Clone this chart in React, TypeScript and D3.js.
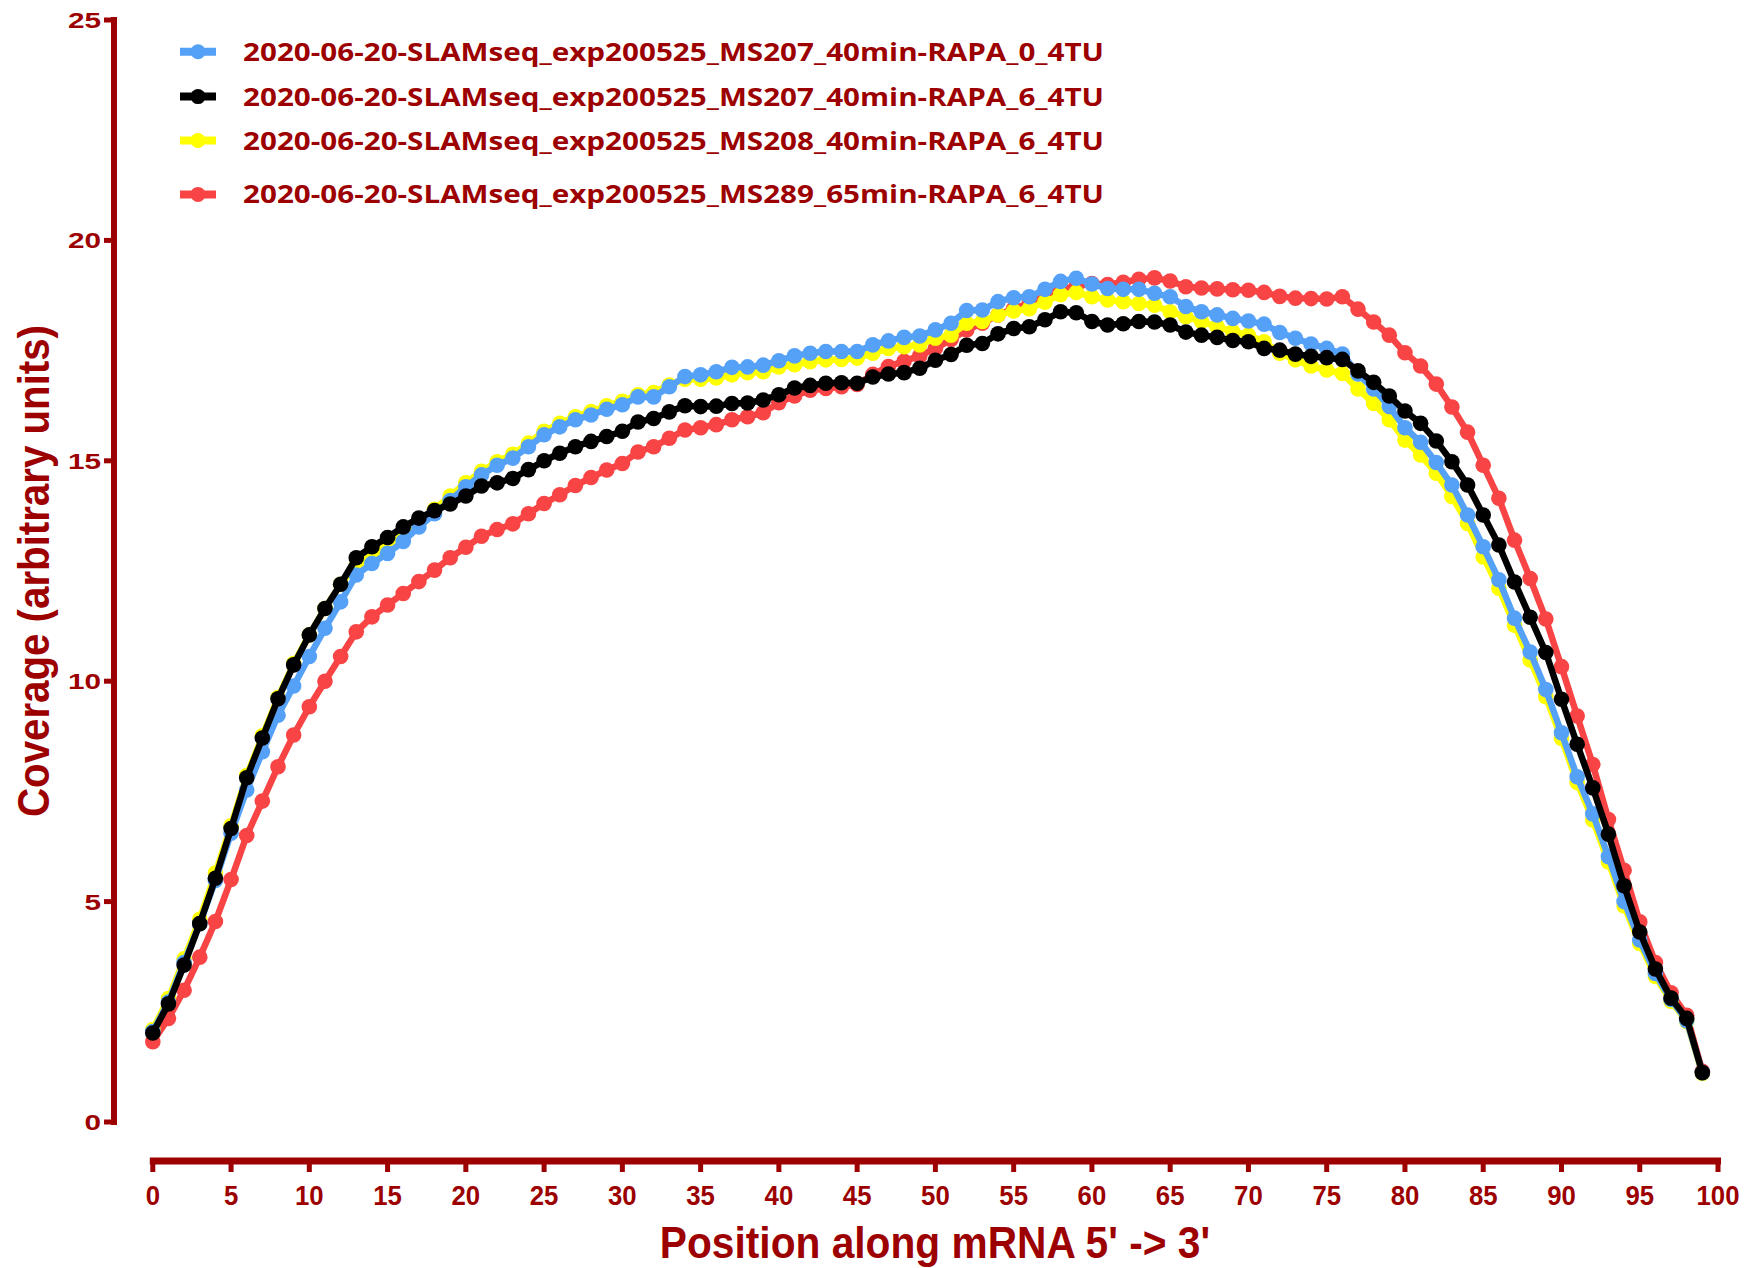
import React from "react";
import * as d3 from "d3";

const positions: number[] = d3.range(0, 100);

const seriesNames: string[] = [
  "2020-06-20-SLAMseq_exp200525_MS207_40min-RAPA_0_4TU",
  "2020-06-20-SLAMseq_exp200525_MS207_40min-RAPA_6_4TU",
  "2020-06-20-SLAMseq_exp200525_MS208_40min-RAPA_6_4TU",
  "2020-06-20-SLAMseq_exp200525_MS289_65min-RAPA_6_4TU",
];

const seriesColors: string[] = ["#55a1f7", "#000000", "#ffff00", "#f84444"];

const blueValues: number[] = [
  2.05, 2.72, 3.62, 4.5, 5.48, 6.55, 7.53, 8.4, 9.23, 9.89,
  10.56, 11.2, 11.8, 12.41, 12.67, 12.9, 13.17, 13.5, 13.8, 14.1,
  14.41, 14.68, 14.9, 15.06, 15.32, 15.59, 15.77, 15.93, 16.04, 16.17,
  16.27, 16.45, 16.45, 16.68, 16.91, 16.95, 17.02, 17.12, 17.13, 17.17,
  17.27, 17.38, 17.44, 17.48, 17.48, 17.48, 17.63, 17.72, 17.8, 17.83,
  17.97, 18.12, 18.41, 18.42, 18.61, 18.7, 18.72, 18.89, 19.07, 19.14,
  19.01, 18.91, 18.89, 18.89, 18.8, 18.72, 18.5, 18.38, 18.31, 18.23,
  18.17, 18.1, 17.91, 17.78, 17.65, 17.55, 17.42, 16.97, 16.63, 16.23,
  15.75, 15.42, 14.96, 14.45, 13.77, 13.05, 12.3, 11.43, 10.66, 9.81,
  8.83, 7.83, 6.99, 6.02, 5.0, 4.13, 3.37, 2.78, 2.3, 1.12,
];

const blackValues: number[] = [
  2.02, 2.68, 3.56, 4.5, 5.53, 6.66, 7.81, 8.71, 9.6, 10.37,
  11.05, 11.65, 12.2, 12.8, 13.05, 13.26, 13.5, 13.7, 13.87, 14.02,
  14.2, 14.43, 14.5, 14.6, 14.8, 15.0, 15.17, 15.32, 15.44, 15.55,
  15.67, 15.88, 15.96, 16.11, 16.25, 16.23, 16.24, 16.3, 16.31, 16.38,
  16.5, 16.65, 16.71, 16.76, 16.77, 16.76, 16.9, 16.97, 17.0, 17.1,
  17.28, 17.41, 17.62, 17.66, 17.88, 18.0, 18.04, 18.2, 18.38, 18.36,
  18.16, 18.08, 18.11, 18.16, 18.15, 18.08, 17.92, 17.85, 17.8, 17.73,
  17.7, 17.55, 17.51, 17.42, 17.37, 17.34, 17.3, 17.04, 16.78, 16.47,
  16.13, 15.85, 15.45, 14.98, 14.45, 13.77, 13.09, 12.25, 11.45, 10.65,
  9.59, 8.57, 7.58, 6.53, 5.36, 4.31, 3.47, 2.81, 2.35, 1.12,
];

const yellowValues: number[] = [
  2.1, 2.8, 3.7, 4.6, 5.65, 6.72, 7.86, 8.76, 9.63, 10.4,
  11.05, 11.65, 12.2, 12.62, 12.86, 13.1, 13.36, 13.62, 13.9, 14.2,
  14.5, 14.76, 14.98, 15.15, 15.4, 15.67, 15.85, 16.0, 16.12, 16.25,
  16.35, 16.5, 16.55, 16.72, 16.85, 16.85, 16.88, 16.95, 17.0, 17.02,
  17.13, 17.18, 17.25, 17.29, 17.3, 17.33, 17.44, 17.55, 17.59, 17.63,
  17.78, 17.85, 18.12, 18.16, 18.31, 18.4, 18.45, 18.6, 18.77, 18.82,
  18.72, 18.65, 18.61, 18.57, 18.53, 18.38, 18.27, 18.16, 18.04, 17.93,
  17.85, 17.7, 17.44, 17.29, 17.15, 17.06, 16.98, 16.63, 16.3, 15.93,
  15.47, 15.13, 14.72, 14.19, 13.58, 12.82, 12.11, 11.27, 10.48, 9.65,
  8.7, 7.7, 6.85, 5.9, 4.9, 4.05, 3.3, 2.74, 2.28, 1.1,
];

const redValues: number[] = [
  1.82, 2.35, 2.99, 3.74, 4.55, 5.5, 6.5, 7.28, 8.06, 8.78,
  9.42, 10.0, 10.56, 11.12, 11.46, 11.73, 11.99, 12.26, 12.52, 12.8,
  13.04, 13.29, 13.44, 13.57, 13.8, 14.03, 14.23, 14.44, 14.62, 14.79,
  14.94, 15.2, 15.32, 15.51, 15.7, 15.75, 15.82, 15.93, 16.0, 16.09,
  16.32, 16.47, 16.6, 16.64, 16.68, 16.73, 16.96, 17.14, 17.26, 17.38,
  17.55, 17.75, 17.97, 18.12, 18.31, 18.45, 18.57, 18.75, 18.9, 18.96,
  19.02, 19.0, 19.05, 19.12, 19.15, 19.08, 18.95, 18.92, 18.9, 18.88,
  18.87, 18.82, 18.73, 18.69, 18.68, 18.67, 18.72, 18.44, 18.15, 17.85,
  17.45, 17.15, 16.74, 16.22, 15.65, 14.9, 14.15, 13.2, 12.33, 11.41,
  10.33, 9.21, 8.11, 6.86, 5.71, 4.54, 3.62, 2.93, 2.42, 1.15,
];

const xTicks: number[] = d3.range(0, 101, 5);
const yTicks: number[] = [0, 5, 10, 15, 20, 25];

const xAxisTitle = "Position along mRNA 5' -> 3'";
const yAxisTitle = "Coverage (arbitrary units)";

const AXIS = "#9c0000";
const W = 1762;
const H = 1268;

export default function App() {
  const x = d3.scaleLinear().domain([0, 100]).range([152.8, 1718]);
  const y = d3.scaleLinear().domain([0, 25]).range([1122, 20]);

  const allSeries = [blueValues, blackValues, yellowValues, redValues];
  // draw order: red, yellow, blue, black (black on top)
  const drawOrder = [3, 2, 0, 1];

  const line = d3
    .line<number>()
    .x((_, i) => x(positions[i]))
    .y((d) => y(d));

  const legendRows = [51.7, 96.6, 140.5, 194.4];

  return (
    <svg
      width={W}
      height={H}
      style={{ position: "absolute", left: 0, top: 0, background: "#fff" }}
    >
      <rect x={0} y={0} width={W} height={H} fill="#fff" />
      {/* Series */}
      {drawOrder.map((si) => (
        <g key={si}>
          <path
            d={line(allSeries[si]) || ""}
            fill="none"
            stroke={seriesColors[si]}
            strokeWidth={6.5}
            strokeLinejoin="round"
          />
          {allSeries[si].map((v, i) => (
            <circle
              key={i}
              cx={x(positions[i])}
              cy={y(v)}
              r={7.8}
              fill={seriesColors[si]}
            />
          ))}
        </g>
      ))}

      {/* Y axis */}
      <line x1={114} x2={114} y1={y(25) - 3} y2={y(0) + 3} stroke={AXIS} strokeWidth={6} />
      {yTicks.map((t) => (
        <g key={t}>
          <line x1={104} x2={114} y1={y(t)} y2={y(t)} stroke={AXIS} strokeWidth={5} />
          <g transform={`translate(101,${y(t) + 8}) scale(1.35,1)`}>
            <text
              textAnchor="end"
              fontFamily="Liberation Sans, Arial, sans-serif"
              fontWeight="bold"
              fontSize={22}
              fill={AXIS}
            >
              {t}
            </text>
          </g>
        </g>
      ))}

      {/* X axis */}
      <line x1={x(0) - 3} x2={x(100) + 3} y1={1161} y2={1161} stroke={AXIS} strokeWidth={7} />
      {xTicks.map((t) => (
        <g key={t}>
          <line x1={x(t)} x2={x(t)} y1={1161} y2={1172} stroke={AXIS} strokeWidth={5} />
          <g transform={`translate(${x(t)},1204.5) scale(0.92,1)`}>
            <text
              textAnchor="middle"
              fontFamily="Liberation Sans, Arial, sans-serif"
              fontWeight="bold"
              fontSize={28}
              fill={AXIS}
            >
              {t}
            </text>
          </g>
        </g>
      ))}

      {/* Axis titles */}
      <g transform={`translate(935,1258) scale(0.925,1)`}>
        <text
          textAnchor="middle"
          fontFamily="Liberation Sans, Arial, sans-serif"
          fontWeight="bold"
          fontSize={44}
          fill={AXIS}
        >
          {xAxisTitle}
        </text>
      </g>
      <g transform={`translate(49,571) rotate(-90) scale(0.915,1)`}>
        <text
          textAnchor="middle"
          fontFamily="Liberation Sans, Arial, sans-serif"
          fontWeight="bold"
          fontSize={44}
          fill={AXIS}
        >
          {yAxisTitle}
        </text>
      </g>

      {/* Legend */}
      {seriesNames.map((name, i) => (
        <g key={name}>
          <line
            x1={180}
            x2={216}
            y1={legendRows[i]}
            y2={legendRows[i]}
            stroke={seriesColors[i]}
            strokeWidth={8}
          />
          <circle cx={198} cy={legendRows[i]} r={7.5} fill={seriesColors[i]} />
          <text
            x={243}
            y={legendRows[i] + 9}
            fontFamily="Open Sans, Noto Sans, sans-serif"
            fontWeight="bold"
            fontSize={25}
            fill={AXIS}
            textLength={861}
            lengthAdjust="spacingAndGlyphs"
          >
            {name}
          </text>
        </g>
      ))}
    </svg>
  );
}
